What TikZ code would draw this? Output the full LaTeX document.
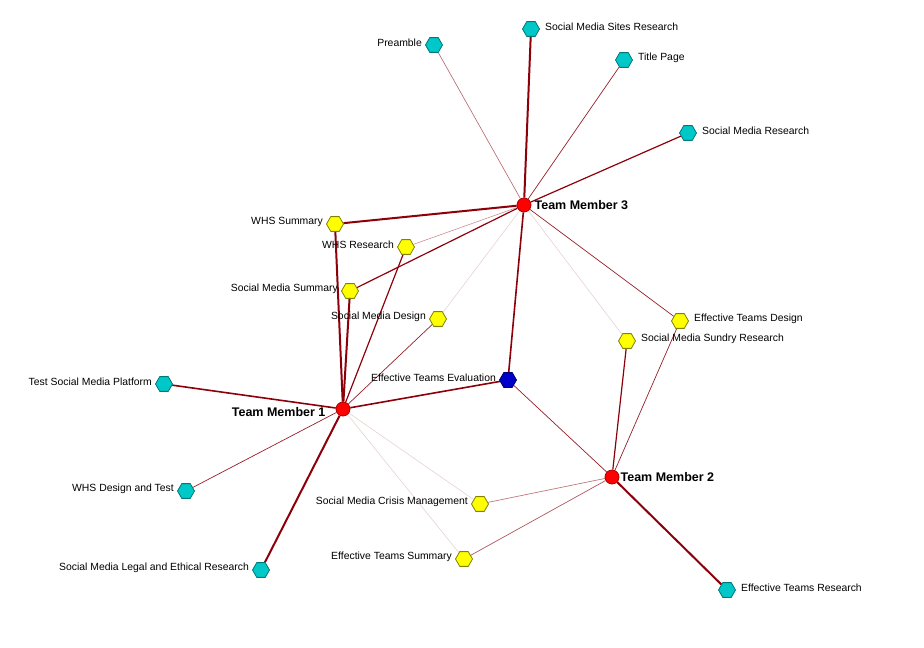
\documentclass[tikz,border=0pt]{standalone}
\usepackage{fontspec}
\setmainfont{Liberation Sans}
\usetikzlibrary{shapes.geometric,backgrounds}
\definecolor{edgedark}{RGB}{140,0,10}
\definecolor{edgemid}{RGB}{150,30,40}
\definecolor{edgelight}{RGB}{230,210,210}
\definecolor{hexcyan}{RGB}{0,200,200}
\definecolor{hexcyanb}{RGB}{0,120,120}
\definecolor{hexyel}{RGB}{255,255,0}
\definecolor{hexyelb}{RGB}{130,130,0}
\definecolor{hexblue}{RGB}{0,0,200}
\definecolor{hexblueb}{RGB}{0,0,110}
\definecolor{tmred}{RGB}{255,0,0}
\definecolor{tmredb}{RGB}{170,0,0}
\tikzset{
  hexbase/.style={regular polygon, regular polygon sides=6, minimum size=17pt, inner sep=0pt, line width=0.8pt},
  cyanhex/.style={hexbase, fill=hexcyan, draw=hexcyanb},
  yelhex/.style={hexbase, fill=hexyel, draw=hexyelb},
  bluehex/.style={hexbase, fill=hexblue, draw=hexblueb},
  member/.style={circle, minimum size=14pt, inner sep=0pt, fill=tmred, draw=tmredb, line width=0.8pt},
  lbl/.style={font=\fontsize{10.4}{12}\selectfont, inner sep=0pt, yshift=2pt},
  mlbl/.style={font=\fontsize{12.5}{14}\selectfont\bfseries, inner sep=0pt},
  wthick/.style={draw=edgedark, line width=2pt},
  wmedthick/.style={draw=edgedark, line width=1.6pt},
  wmed/.style={draw=edgedark, line width=1.2pt},
  wthin/.style={draw=edgemid, line width=0.7pt},
  wfaint/.style={draw=edgelight, line width=0.6pt},
}
\begin{document}
\begin{tikzpicture}[x=1pt,y=-1pt]
\useasboundingbox (0,0) rectangle (924,648);
% hubs
\node[member, label={[mlbl, label distance=3pt]right:Team Member 3}] (tm3) at (524,205) {};
\node[member, label={[mlbl, label distance=10pt, yshift=-3pt]left:Team Member 1}] (tm1) at (343,409) {};
\node[member, label={[mlbl, label distance=1pt]right:Team Member 2}] (tm2) at (612,477) {};
% tasks
\node[cyanhex, label={[lbl, label distance=3pt]left:Preamble}] (pre) at (434,45) {};
\node[cyanhex, label={[lbl, label distance=5pt]right:Social Media Sites Research}] (sites) at (531,29) {};
\node[cyanhex, label={[lbl, label distance=5pt]right:Title Page}] (title) at (624,60) {};
\node[cyanhex, label={[lbl, label distance=5pt]right:Social Media Research}] (smr) at (688,133) {};
\node[yelhex, label={[lbl, label distance=3pt]left:WHS Summary}] (whss) at (335,224) {};
\node[yelhex, label={[lbl, label distance=3pt]left:WHS Research}] (whsr) at (406,247) {};
\node[yelhex, label={[lbl, label distance=3pt]left:Social Media Summary}] (sms) at (350,291) {};
\node[yelhex, label={[lbl, label distance=3pt]left:Social Media Design}] (smd) at (438,319) {};
\node[yelhex, label={[lbl, label distance=5pt]right:Effective Teams Design}] (etd) at (680,321) {};
\node[yelhex, label={[lbl, label distance=5pt]right:Social Media Sundry Research}] (smsr) at (627,341) {};
\node[bluehex, label={[lbl, label distance=3pt]left:Effective Teams Evaluation}] (ete) at (508,380) {};
\node[cyanhex, label={[lbl, label distance=3pt]left:Test Social Media Platform}] (tsmp) at (164,384) {};
\node[cyanhex, label={[lbl, label distance=3pt]left:WHS Design and Test}] (whsdt) at (186,491) {};
\node[cyanhex, label={[lbl, label distance=3pt]left:Social Media Legal and Ethical Research}] (smle) at (261,570) {};
\node[yelhex, label={[lbl, label distance=3pt]left:Social Media Crisis Management}] (smcm) at (480,504) {};
\node[yelhex, label={[lbl, label distance=3pt]left:Effective Teams Summary}] (ets) at (464,559) {};
\node[cyanhex, label={[lbl, label distance=5pt]right:Effective Teams Research}] (etr) at (727,590) {};
% edges
\begin{scope}[on background layer]
\draw[wthin, draw=edgemid!70, line width=0.6pt] (tm3) -- (pre);
\draw[wthick] (tm3) -- (sites);
\draw[wthin] (tm3) -- (title);
\draw[wmed] (tm3) -- (smr);
\draw[wthick] (tm3) -- (whss);
\draw[wfaint, draw=edgemid!50] (tm3) -- (whsr);
\draw[wmed] (tm3) -- (sms);
\draw[wfaint] (tm3) -- (smd);
\draw[wmedthick] (tm3) -- (ete);
\draw[wthin] (tm3) -- (etd);
\draw[wfaint] (tm3) -- (smsr);
\draw[wthick] (tm1) -- (whss);
\draw[wthick] (tm1) -- (sms);
\draw[wmed] (tm1) -- (whsr);
\draw[wthin] (tm1) -- (smd);
\draw[wmedthick] (tm1) -- (ete);
\draw[wmedthick] (tm1) -- (tsmp);
\draw[wthin] (tm1) -- (whsdt);
\draw[wthick] (tm1) -- (smle);
\draw[wfaint] (tm1) -- (smcm);
\draw[wfaint] (tm1) -- (ets);
\draw[wthin] (tm2) -- (ete);
\draw[wmed] (tm2) -- (smsr);
\draw[wthin] (tm2) -- (etd);
\draw[wthin, draw=edgemid!60] (tm2) -- (smcm);
\draw[wthin, draw=edgemid!75] (tm2) -- (ets);
\draw[wthick] (tm2) -- (etr);
\end{scope}
\end{tikzpicture}
\end{document}
